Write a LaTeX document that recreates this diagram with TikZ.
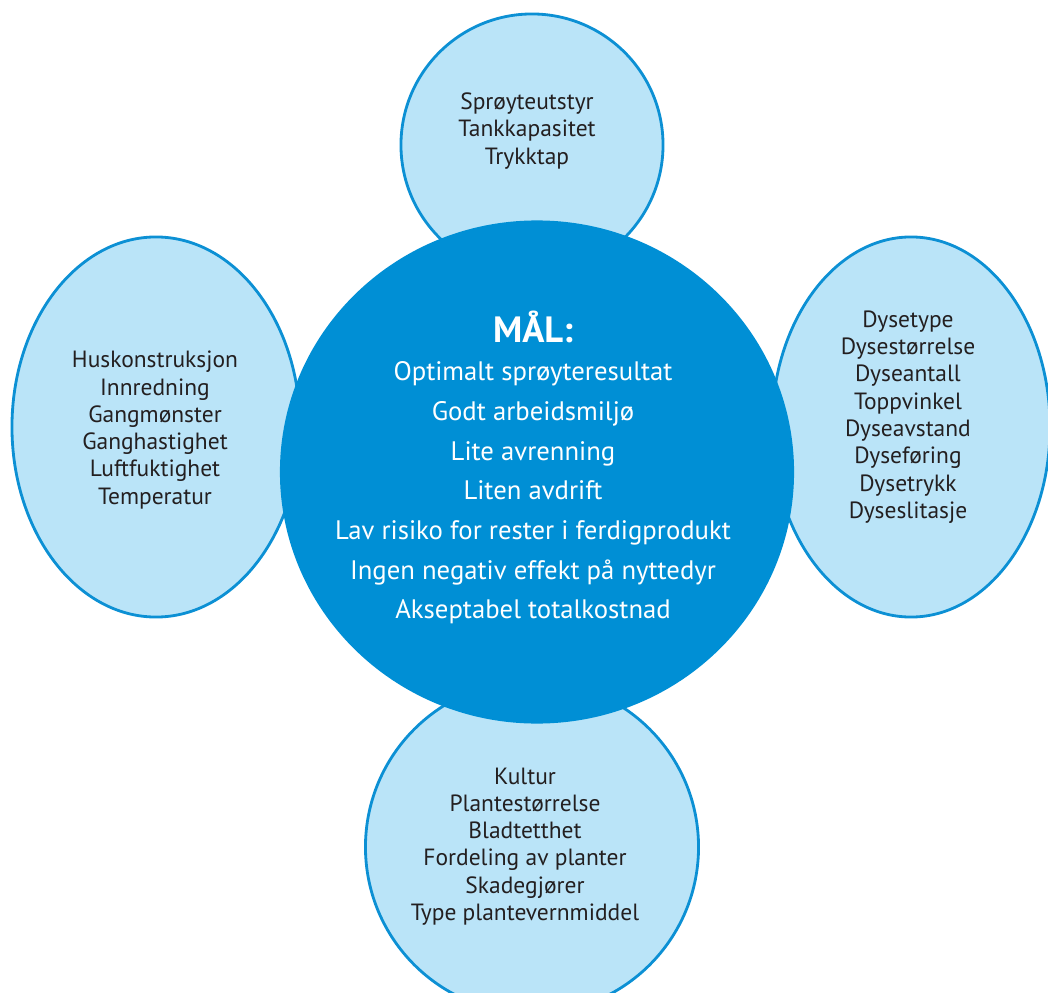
\documentclass[tikz,border=0pt]{standalone}
\usepackage{fontspec}
\setmainfont{PT Sans}
\usetikzlibrary{positioning, shapes.geometric}
\definecolor{myblue}{RGB}{0, 143, 213}
\definecolor{mylight}{RGB}{186, 228, 248}
\definecolor{myline}{RGB}{12, 144, 212}
\definecolor{mytext}{RGB}{35, 31, 32}

\begin{document}
\begin{tikzpicture}[x=0.025cm, y=-0.025cm,
    sat/.style={ellipse, draw=myline, line width=2pt, fill=mylight, inner sep=0pt},
    sattext/.style={align=center, text=mytext, font=\fontsize{16.7}{19.4}\selectfont},
    maltext/.style={align=center, text=white, font=\fontsize{19}{28.2}\selectfont}]
    \useasboundingbox (0, 0) rectangle (1048, 993);
    \clip (0, 0) rectangle (1048, 993);

    % satellitter
    \node[sat, minimum width=6.55cm, minimum height=6.55cm] (topp) at (532, 145) {};
    \node[sat, minimum width=7.2cm, minimum height=9.5cm] (venstre) at (156, 427) {};
    \node[sat, minimum width=6.95cm, minimum height=9.5cm] (hoyre) at (911, 427) {};
    \node[sat, minimum width=8.325cm, minimum height=8.325cm] (bunn) at (532, 847) {};

    % MÅL
    \node[ellipse, fill=myblue, minimum width=12.85cm, minimum height=12.575cm, inner sep=0pt] (mal) at (537, 472) {};

    % tekst
    \node[sattext] (topptekst) at (527, 131) {Sprøyteutstyr\\Tankkapasitet\\Trykktap};
    \node[sattext] (venstretekst) at (155, 430) {Huskonstruksjon\\Innredning\\Gangmønster\\Ganghastighet\\Luftfuktighet\\Temperatur};
    \node[sattext] (hoyretekst) at (908, 417) {Dysetype\\Dysestørrelse\\Dyseantall\\Toppvinkel\\Dyseavstand\\Dyseføring\\Dysetrykk\\Dyseslitasje};
    \node[sattext] (bunntekst) at (525, 846.5) {Kultur\\Plantestørrelse\\Bladtetthet\\Fordeling av planter\\Skadegjører\\Type plantevernmiddel};

    \node[text=white, font=\fontsize{26}{30}\selectfont\bfseries] (maltittel) at (533, 327) {MÅL:};
    \node[maltext] (malliste) at (533, 493) {Optimalt sprøyteresultat\\Godt arbeidsmiljø\\Lite avrenning\\Liten avdrift\\Lav risiko for rester i ferdigprodukt\\Ingen negativ effekt på nyttedyr\\Akseptabel totalkostnad};
\end{tikzpicture}
\end{document}
